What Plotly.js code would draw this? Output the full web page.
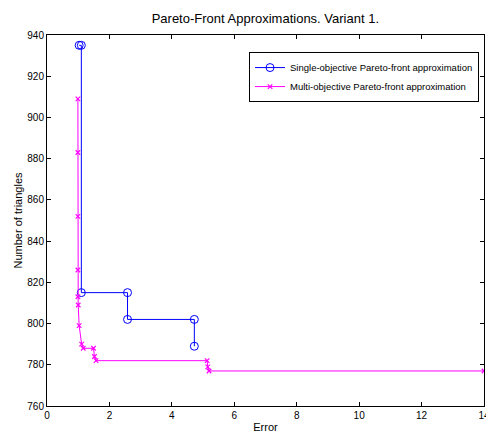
<!DOCTYPE html>
<html>
<head>
<meta charset="utf-8">
<script src="https://cdn.plot.ly/plotly-3.0.1.min.js"></script>
<style>html,body{margin:0;padding:0;background:#fff;}#chart{width:486px;height:433px;}</style>
</head>
<body>
<div id="chart"></div>
<script>
// Single-objective Pareto-front approximation (vertices)
const singleError = [1.03, 1.10, 1.10, 2.58, 2.58, 4.72, 4.72];
const singleTriangles = [935, 935, 815, 815, 802, 802, 789];
// Multi-objective Pareto-front approximation (vertices)
const multiError = [0.99, 0.99, 0.99, 0.99, 0.99, 1.00, 1.03, 1.11, 1.16, 1.49, 1.52, 1.57, 5.13, 5.15, 5.19, 14];
const multiTriangles = [909, 883, 852, 826, 813, 809, 799, 790, 788, 788, 784, 782, 782, 779, 777, 777];

const xTicks = [0, 2, 4, 6, 8, 10, 12, 14];
const yTicks = [760, 780, 800, 820, 840, 860, 880, 900, 920, 940];

const font = 'Liberation Sans, Arial, sans-serif';

const traces = [
  {
    x: singleError, y: singleTriangles, type: 'scatter', mode: 'lines+markers',
    name: 'Single-objective Pareto-front approximation',
    line: {color: '#0000ff', width: 1},
    marker: {symbol: 'circle-open', size: 8, color: '#0000ff', line: {width: 1, color: '#0000ff'}}
  },
  {
    x: multiError, y: multiTriangles, type: 'scatter', mode: 'lines+markers',
    name: 'Multi-objective Pareto-front approximation',
    line: {color: '#ff00ff', width: 1},
    marker: {symbol: 'x-thin-open', size: 4.5, color: '#ff00ff', line: {width: 1.2, color: '#ff00ff'}}
  }
];

const axisCommon = {
  showgrid: false, zeroline: false, showline: true, linecolor: '#000', linewidth: 1,
  mirror: 'ticks', ticks: 'inside', ticklen: 4, tickcolor: '#000', tickwidth: 1,
  ticklabeloverflow: 'allow',
  tickfont: {family: font, size: 10, color: '#000'}
};

const layout = {
  width: 486, height: 433,
  margin: {l: 47, r: 2, t: 35, b: 27},
  paper_bgcolor: '#fff', plot_bgcolor: '#fff',
  font: {family: font, color: '#000'},
  title: {text: 'Pareto-Front Approximations. Variant 1.', font: {family: font, size: 13, color: '#000'},
          x: 0.546, xanchor: 'center', y: 0.958, yanchor: 'middle'},
  xaxis: Object.assign({}, axisCommon, {
    range: [0, 14], tickvals: xTicks, ticktext: xTicks.map(String),
    title: {text: 'Error', font: {family: font, size: 11, color: '#000'}, standoff: 4}
  }),
  yaxis: Object.assign({}, axisCommon, {
    range: [760, 940], tickvals: yTicks, ticktext: yTicks.map(String),
    title: {text: 'Number of triangles', font: {family: font, size: 11, color: '#000'}, standoff: 2}
  }),
  showlegend: true,
  legend: {
    x: 0.9886, xanchor: 'right', y: 0.954, yanchor: 'top',
    bgcolor: '#fff', bordercolor: '#000', borderwidth: 1,
    font: {family: font, size: 9.5, color: '#000'},
    tracegroupgap: 0, itemwidth: 30
  }
};

Plotly.newPlot('chart', traces, layout, {displayModeBar: false, staticPlot: true});
</script>
</body>
</html>
